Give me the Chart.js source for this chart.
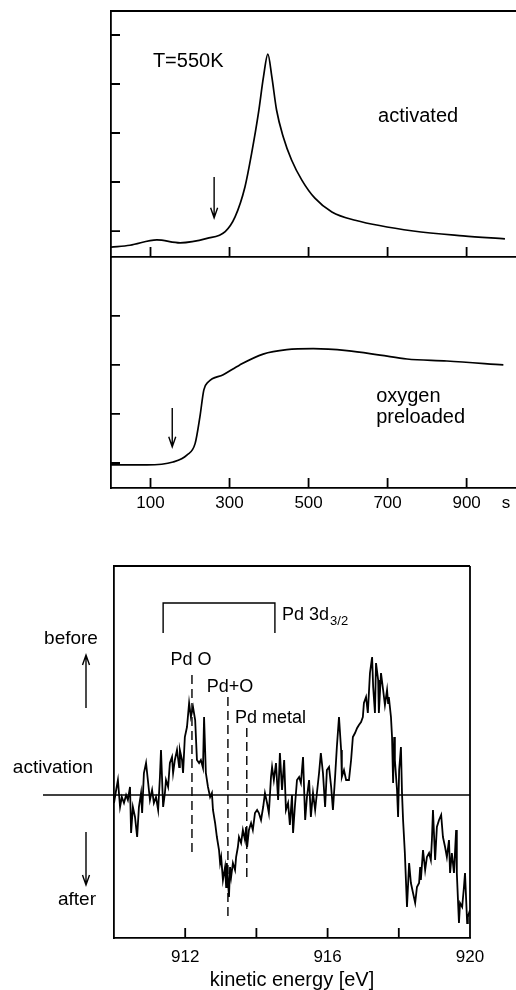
<!DOCTYPE html>
<html>
<head>
<meta charset="utf-8">
<script src="https://cdn.jsdelivr.net/npm/chart.js@4.4.1/dist/chart.umd.min.js"></script>
<style>
  body { margin: 0; background: #fff; }
  #wrap { position: relative; width: 516px; height: 990px; }
  canvas { position: absolute; left: 0; }
</style>
</head>
<body>
<div id="wrap">
  <canvas id="activated" width="516" height="258" style="top:0"></canvas>
  <canvas id="preloaded" width="516" height="260" style="top:257px"></canvas>
  <canvas id="spectrum" width="516" height="430" style="top:560px"></canvas>
</div>
<script>
// top panel: activated sample, T = 550 K
const timeA = [0, 48, 116, 175, 243, 289, 314, 339, 356, 373, 386, 397, 407, 419, 436, 457, 483, 516, 559, 618, 765, 891, 997];
const activated = [0.67, 0.71, 0.82, 0.76, 0.85, 0.99, 1.29, 1.9, 2.59, 3.4, 4.15, 4.61, 4.15, 3.47, 2.92, 2.45, 2.04, 1.67, 1.39, 1.22, 1.0, 0.9, 0.84];

// middle panel: oxygen preloaded
const timeB = [0, 91, 157, 192, 213, 225, 235, 246, 284, 326, 385, 445, 512, 597, 681, 749, 850, 993];
const preloaded = [0.96, 0.96, 1.02, 1.16, 1.4, 1.94, 2.49, 2.65, 2.8, 3.0, 3.22, 3.31, 3.33, 3.29, 3.2, 3.12, 3.08, 3.0];

const timeTicks = [100, 300, 500, 700, 900, 1000];
const levelsA = [1, 2, 3, 4, 5];
const levelsB = [1, 2, 3, 4];

// bottom panel: difference spectrum, Pd 3d region
const energy = [910.00,910.06,910.11,910.17,910.22,910.28,910.34,910.39,910.45,910.48,
  910.53,910.59,910.65,910.70,910.76,910.79,910.84,910.90,910.96,911.01,
  911.07,911.12,911.18,911.24,911.29,911.32,911.38,911.43,911.46,911.52,
  911.57,911.63,911.66,911.71,911.77,911.83,911.85,911.91,911.94,911.99,
  912.05,912.11,912.16,912.22,912.28,912.33,912.39,912.44,912.50,912.53,
  912.58,912.64,912.70,912.75,912.78,912.84,912.89,912.95,912.98,913.01,
  913.06,913.12,913.15,913.17,913.23,913.26,913.29,913.34,913.40,913.43,
  913.48,913.51,913.57,913.62,913.68,913.71,913.74,913.79,913.85,913.90,
  913.96,914.02,914.07,914.13,914.19,914.24,914.30,914.35,914.41,914.44,
  914.49,914.55,914.61,914.66,914.72,914.78,914.83,914.89,914.94,915.00,
  915.03,915.08,915.14,915.20,915.25,915.31,915.37,915.42,915.48,915.53,
  915.59,915.65,915.70,915.76,915.81,915.87,915.93,915.98,916.04,916.10,
  916.15,916.21,916.26,916.32,916.38,916.40,916.46,916.52,916.60,916.66,
  916.71,916.77,916.83,916.88,916.94,916.99,917.02,917.08,917.13,917.19,
  917.25,917.28,917.33,917.36,917.42,917.44,917.50,917.56,917.61,917.67,
  917.70,917.72,917.78,917.81,917.84,917.87,917.89,917.95,917.98,918.01,
  918.06,918.09,918.12,918.17,918.20,918.23,918.29,918.34,918.40,918.46,
  918.51,918.57,918.60,918.62,918.68,918.74,918.79,918.85,918.90,918.93,
  918.96,919.02,919.07,919.13,919.19,919.24,919.30,919.35,919.41,919.44,
  919.49,919.55,919.61,919.63,919.69,919.72,919.78,919.83,919.86,919.92,
  919.94,920.00];
const signal = [-0.08,0.05,0.15,-0.12,-0.02,-0.08,0.00,-0.05,0.08,-0.38,
  -0.12,-0.22,-0.42,-0.12,0.02,-0.18,0.22,0.32,0.12,-0.05,
  0.05,-0.08,-0.02,-0.15,0.18,0.45,-0.12,0.02,0.15,0.08,
  0.32,0.38,0.22,0.35,0.45,0.28,0.45,0.35,0.22,0.58,
  0.68,0.92,0.78,0.88,0.75,0.35,0.32,0.35,0.27,0.78,
  0.22,0.08,-0.02,0.02,-0.15,-0.28,-0.42,-0.55,-0.68,-0.62,
  -0.85,-0.72,-0.92,-0.68,-1.02,-0.72,-0.82,-0.68,-0.75,-0.62,
  -0.52,-0.42,-0.48,-0.35,-0.45,-0.32,-0.52,-0.35,-0.28,-0.35,
  -0.18,-0.15,-0.18,-0.25,-0.12,0.02,-0.08,-0.18,0.18,0.28,
  0.15,0.32,-0.05,0.42,0.05,0.35,-0.15,-0.08,-0.30,0.00,
  -0.38,-0.12,0.15,0.18,0.12,0.38,-0.25,-0.02,0.15,-0.22,
  0.02,-0.15,0.02,0.22,0.42,0.22,-0.12,0.25,0.28,0.08,
  -0.15,0.18,0.48,0.78,0.45,0.18,0.25,0.15,0.15,0.35,
  0.58,0.62,0.67,0.70,0.73,0.78,0.92,0.98,0.82,1.22,
  1.38,1.08,0.82,1.32,1.15,0.82,1.22,1.05,0.90,1.05,
  0.92,0.98,0.78,0.58,0.12,0.58,0.35,0.05,-0.22,0.25,
  0.48,0.02,-0.25,-0.58,-0.85,-1.12,-0.68,-0.88,-0.98,-1.08,
  -0.92,-0.88,-0.72,-0.85,-0.55,-0.75,-0.62,-0.58,-0.65,-0.45,
  -0.15,-0.65,-0.32,-0.25,-0.20,-0.42,-0.52,-0.62,-0.45,-0.78,
  -0.58,-0.78,-0.35,-0.78,-1.28,-1.08,-1.12,-0.92,-0.78,-1.28,
  -1.22,-1.15];
const energyTicks = [912, 914, 916, 918, 920];
const energyLabels = [912, 916, 920];

const FONT = '"Liberation Sans", Arial, sans-serif';
const AXW = 1.8;

// frame lines, inward tick marks, arrows, dashed markers and free text
const deco = {
  id: 'deco',
  afterDraw(chart, args, o) {
    const { ctx, chartArea: a, scales: { x, y } } = chart;
    const X = v => x.getPixelForValue(v), Y = v => y.getPixelForValue(v);
    ctx.save();
    ctx.strokeStyle = '#000';
    ctx.fillStyle = '#000';
    ctx.lineWidth = AXW;
    ctx.beginPath();
    if (o.top) { ctx.moveTo(a.left, a.top); ctx.lineTo(a.right, a.top); }
    if (o.right) { ctx.moveTo(a.right, a.top); ctx.lineTo(a.right, a.bottom); }
    (o.xMarks || []).forEach(v => { ctx.moveTo(X(v), a.bottom); ctx.lineTo(X(v), a.bottom - 10); });
    (o.yMarks || []).forEach(v => { ctx.moveTo(a.left, Y(v)); ctx.lineTo(a.left + 9, Y(v)); });
    ctx.stroke();

    ctx.lineWidth = 1.4;
    if (o.zero) {
      ctx.beginPath();
      ctx.moveTo(o.zero, Y(0)); ctx.lineTo(a.right, Y(0));
      ctx.stroke();
    }
    if (o.bracket) {
      const b = o.bracket;
      ctx.beginPath();
      ctx.moveTo(X(b.x0), Y(b.bottom)); ctx.lineTo(X(b.x0), Y(b.top));
      ctx.lineTo(X(b.x1), Y(b.top)); ctx.lineTo(X(b.x1), Y(b.bottom));
      ctx.stroke();
    }
    (o.arrows || []).forEach(ar => {
      const px = ar.px !== undefined ? ar.px : X(ar.x);
      const p0 = Y(ar.from), p1 = Y(ar.to), d = Math.sign(p1 - p0);
      ctx.beginPath();
      ctx.moveTo(px, p0); ctx.lineTo(px, p1);
      ctx.moveTo(px - 3.5, p1 - d * 10); ctx.lineTo(px, p1); ctx.lineTo(px + 3.5, p1 - d * 10);
      ctx.stroke();
    });
    ctx.setLineDash([9, 5]);
    (o.dashes || []).forEach(dl => {
      ctx.beginPath();
      ctx.moveTo(X(dl.x), Y(dl.from)); ctx.lineTo(X(dl.x), Y(dl.to));
      ctx.stroke();
    });
    ctx.setLineDash([]);

    ctx.textBaseline = 'middle';
    (o.texts || []).forEach(t => {
      const px = t.px !== undefined ? t.px : X(t.x);
      ctx.font = (t.size || 20) + 'px ' + FONT;
      ctx.textAlign = t.align || 'left';
      ctx.fillText(t.t, px, Y(t.y));
      if (t.sub) {
        const w = ctx.measureText(t.t).width;
        ctx.font = '13px ' + FONT;
        ctx.textAlign = 'left';
        ctx.fillText(t.sub, px + w + 1, Y(t.y) + 6);
      }
    });
    ctx.restore();
  }
};

const hidden = { display: false, drawTicks: false };
const border = { color: '#000', width: AXW };

new Chart(document.getElementById('activated'), {
  type: 'line',
  data: {
    datasets: [{
      data: timeA.map((t, i) => ({ x: t, y: activated[i] })),
      borderColor: '#000', borderWidth: 1.7, pointRadius: 0, cubicInterpolationMode: 'monotone'
    }]
  },
  options: {
    responsive: false, animation: false, devicePixelRatio: 1,
    layout: { padding: { top: 11, left: 0, right: 0, bottom: 0 } },
    plugins: {
      legend: { display: false }, tooltip: { enabled: false },
      deco: {
        top: true,
        xMarks: timeTicks.slice(0, 5),
        yMarks: levelsA,
        arrows: [{ x: 261, from: 2.1, to: 1.27 }],
        texts: [
          { t: 'T=550K', x: 106, y: 4.45 },
          { t: 'activated', x: 676, y: 3.33 }
        ]
      }
    },
    scales: {
      x: { type: 'linear', min: 0, max: 1025, grid: hidden, border, ticks: { display: false }, afterFit: s => { s.height = 1; } },
      y: { min: 0.47, max: 5.49, grid: hidden, border, ticks: { display: false }, afterFit: s => { s.width = 111; } }
    }
  },
  plugins: [deco]
});

new Chart(document.getElementById('preloaded'), {
  type: 'line',
  data: {
    datasets: [{
      data: timeB.map((t, i) => ({ x: t, y: preloaded[i] })),
      borderColor: '#000', borderWidth: 1.7, pointRadius: 0, cubicInterpolationMode: 'monotone'
    }]
  },
  options: {
    responsive: false, animation: false, devicePixelRatio: 1,
    layout: { padding: { top: 0, left: 0, right: 0, bottom: 0 } },
    plugins: {
      legend: { display: false }, tooltip: { enabled: false },
      deco: {
        xMarks: timeTicks.slice(0, 5),
        yMarks: levelsB,
        arrows: [{ x: 155, from: 2.12, to: 1.33 }],
        texts: [
          { t: 'oxygen', x: 671, y: 2.35 },
          { t: 'preloaded', x: 671, y: 1.92 }
        ]
      }
    },
    scales: {
      x: {
        type: 'linear', min: 0, max: 1025, grid: hidden, border,
        afterBuildTicks: s => { s.ticks = timeTicks.map(v => ({ value: v })); },
        ticks: {
          color: '#000', font: { family: FONT, size: 17 }, padding: 5, autoSkip: false, maxRotation: 0,
          callback: v => (v === 1000 ? 's' : v)
        },
        afterFit: s => { s.height = 29; }
      },
      y: { min: 0.49, max: 5.2, grid: hidden, border, ticks: { display: false }, afterFit: s => { s.width = 111; } }
    }
  },
  plugins: [deco]
});

new Chart(document.getElementById('spectrum'), {
  type: 'line',
  data: {
    datasets: [{
      data: energy.map((e, i) => ({ x: e, y: signal[i] })),
      borderColor: '#000', borderWidth: 1.8, pointRadius: 0, tension: 0
    }]
  },
  options: {
    responsive: false, animation: false, devicePixelRatio: 1,
    layout: { padding: { top: 6, left: 0, right: 46, bottom: 0 } },
    plugins: {
      legend: { display: false }, tooltip: { enabled: false },
      deco: {
        top: true, right: true,
        xMarks: energyTicks.slice(0, 4),
        zero: 43,
        bracket: { x0: 911.38, x1: 914.52, top: 1.92, bottom: 1.62 },
        dashes: [
          { x: 912.19, from: 1.20, to: -0.57 },
          { x: 913.20, from: 0.98, to: -1.22 },
          { x: 913.73, from: 0.67, to: -0.83 }
        ],
        arrows: [
          { px: 86, from: 0.87, to: 1.40 },
          { px: 86, from: -0.37, to: -0.90 }
        ],
        texts: [
          { t: 'Pd 3d', x: 914.72, y: 1.80, size: 18, sub: '3/2' },
          { t: 'Pd O', x: 912.16, y: 1.35, size: 18, align: 'center' },
          { t: 'Pd+O', x: 913.26, y: 1.08, size: 18, align: 'center' },
          { t: 'Pd metal', x: 913.40, y: 0.77, size: 18 },
          { t: 'before', px: 71, y: 1.56, size: 19, align: 'center' },
          { t: 'activation', px: 53, y: 0.27, size: 19, align: 'center' },
          { t: 'after', px: 77, y: -1.05, size: 19, align: 'center' }
        ]
      }
    },
    scales: {
      x: {
        type: 'linear', min: 910, max: 920, grid: hidden, border,
        afterBuildTicks: s => { s.ticks = energyTicks.map(v => ({ value: v })); },
        ticks: {
          color: '#000', font: { family: FONT, size: 17 }, padding: 9, autoSkip: false, maxRotation: 0,
          callback: v => (energyLabels.includes(v) ? v : '')
        },
        title: {
          display: true, text: 'kinetic energy [eV]', color: '#000',
          font: { family: FONT, size: 20, lineHeight: 1 }, padding: { top: 0, bottom: 0 }
        },
        afterFit: s => { s.height = 52; }
      },
      y: { min: -1.43, max: 2.29, grid: hidden, border, ticks: { display: false }, afterFit: s => { s.width = 114; } }
    }
  },
  plugins: [deco]
});
</script>
</body>
</html>
